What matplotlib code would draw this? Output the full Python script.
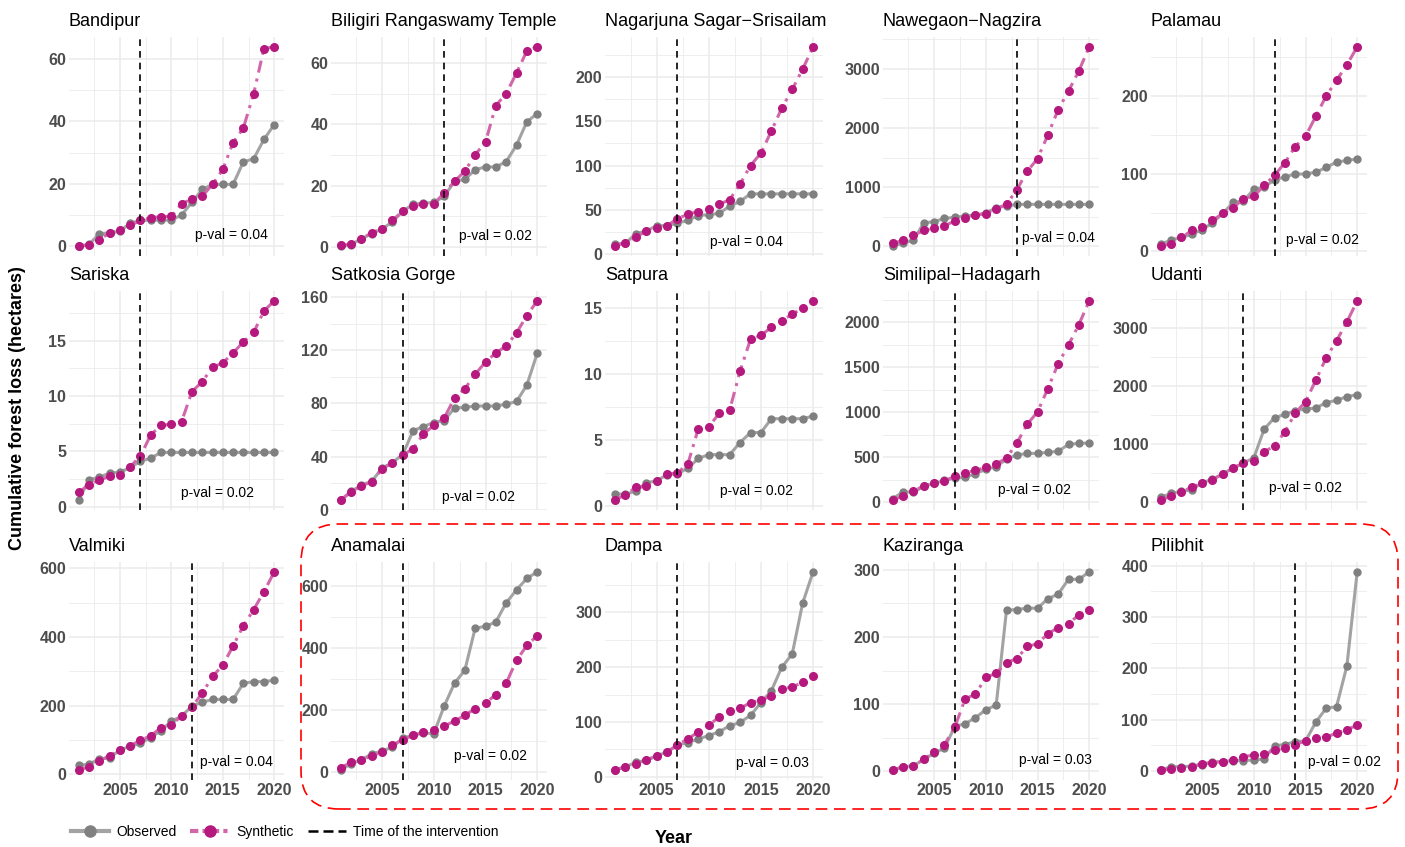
import matplotlib
matplotlib.use("Agg")
import matplotlib.pyplot as plt
from matplotlib.lines import Line2D
from matplotlib.patches import FancyBboxPatch
from matplotlib.ticker import MultipleLocator

plt.rcParams['font.family'] = ['Liberation Sans', 'DejaVu Sans']

years = [2001, 2002, 2003, 2004, 2005, 2006, 2007, 2008, 2009, 2010,
         2011, 2012, 2013, 2014, 2015, 2016, 2017, 2018, 2019, 2020]

names = ["Bandipur", "Biligiri Rangaswamy Temple", "Nagarjuna Sagar\u2212Srisailam",
         "Nawegaon\u2212Nagzira", "Palamau",
         "Sariska", "Satkosia Gorge", "Satpura", "Similipal\u2212Hadagarh", "Udanti",
         "Valmiki", "Anamalai", "Dampa", "Kaziranga", "Pilibhit"]
intervention = [2007, 2011, 2007, 2013, 2012,
                2007, 2007, 2007, 2007, 2009,
                2012, 2007, 2007, 2007, 2014]
pvals = [0.04, 0.02, 0.04, 0.04, 0.02,
         0.02, 0.02, 0.02, 0.02, 0.02,
         0.04, 0.02, 0.03, 0.03, 0.02]

obs_bandipur = [0, 0.5, 4.0, 4.2, 4.7, 7.4, 8.2, 8.3, 8.3, 8.3, 10.0, 14.0, 18.2, 19.8, 19.8, 19.8, 27.0, 28.0, 34.2, 39.0]
syn_bandipur = [0, 0.4, 2.1, 4.2, 5.2, 6.6, 8.2, 9.1, 9.4, 9.5, 13.6, 15.1, 16.0, 19.8, 24.6, 33.2, 37.9, 48.9, 63.4, 63.9]
obs_biligiri = [0.3, 0.8, 2.7, 4.3, 5.9, 8.2, 11.7, 13.9, 14.3, 14.5, 16.5, 21.4, 22.0, 25.2, 26.1, 26.1, 27.8, 33.2, 40.8, 43.5]
syn_biligiri = [0.5, 0.9, 2.6, 4.7, 5.9, 8.7, 11.7, 13.5, 13.9, 14.0, 17.6, 21.4, 24.7, 30.1, 34.2, 46.1, 50.0, 56.7, 63.9, 65.2]
obs_nagarjuna = [11, 12, 23, 26, 32, 32, 35, 38, 43.5, 44.5, 46, 54, 59.5, 68, 68, 68, 68, 68, 68, 68]
syn_nagarjuna = [9, 13, 19, 26, 29, 32, 40, 45, 48, 51, 56, 61.5, 79, 100, 114, 139, 165, 186, 209, 234]
obs_nawegaon = [0, 50, 96, 395, 412, 469, 486, 508, 525, 559, 650, 678, 706, 706, 706, 706, 706, 706, 706, 706]
syn_nawegaon = [45, 96, 181, 265, 305, 345, 424, 480, 525, 548, 633, 706, 955, 1265, 1480, 1881, 2311, 2627, 2966, 3373]
obs_palamau = [9, 15, 18, 22, 28, 37, 49, 63, 65, 80, 83, 92, 96, 99.6, 99.6, 102, 108, 115, 117, 119]
syn_palamau = [7, 10, 18, 27, 32, 40, 49, 56, 68, 71, 85, 98, 114, 135, 148, 174, 200, 220, 240, 263]
obs_sariska = [0.6, 2.45, 2.65, 3.05, 3.1, 3.55, 4.1, 4.4, 4.9, 4.9, 4.9, 4.9, 4.9, 4.9, 4.9, 4.9, 4.9, 4.9, 4.9, 4.9]
syn_sariska = [1.3, 2.0, 2.4, 2.75, 2.85, 3.6, 4.6, 6.5, 7.35, 7.45, 7.7, 10.4, 11.3, 12.6, 13.0, 13.9, 14.9, 15.75, 17.7, 18.6]
obs_satkosia = [7.3, 13.8, 18.6, 21.4, 31.4, 35.4, 41.7, 59.5, 62.6, 65.6, 67, 76.5, 77, 78, 78, 78, 79.4, 81.4, 93.7, 117.6]
syn_satkosia = [7.5, 13.3, 18, 21, 31, 35, 41, 46, 57, 63.5, 69, 84, 91, 102, 111, 118, 123, 133, 146, 157]
obs_satpura = [0.93, 0.88, 1.13, 1.76, 1.9, 2.37, 2.45, 2.85, 3.6, 3.88, 3.88, 3.88, 4.8, 5.55, 5.55, 6.6, 6.6, 6.6, 6.6, 6.8]
syn_satpura = [0.45, 0.85, 1.4, 1.5, 1.9, 2.4, 2.5, 3.2, 5.85, 6.0, 7.0, 7.25, 10.2, 12.6, 12.9, 13.5, 14.0, 14.5, 14.95, 15.5]
obs_similipal = [41, 119, 111, 178, 211, 244, 270, 278, 319, 367, 396, 481, 526, 544, 544, 556, 567, 644, 656, 659]
syn_similipal = [26, 70, 126, 185, 218, 240, 289, 330, 355, 389, 426, 493, 659, 867, 1004, 1263, 1541, 1748, 1974, 2237]
obs_udanti = [86, 155, 190, 213, 339, 397, 489, 592, 678, 764, 1259, 1454, 1511, 1575, 1603, 1621, 1713, 1753, 1816, 1851]
syn_udanti = [40, 103, 178, 264, 328, 391, 489, 586, 678, 713, 868, 971, 1213, 1529, 1730, 2098, 2483, 2776, 3098, 3460]
obs_valmiki = [26, 29, 45, 47, 71, 81, 90, 107, 127, 155, 169, 199, 210, 218, 218, 218, 265, 270, 270, 274]
syn_valmiki = [12, 22, 39, 54, 70, 83, 99, 112, 136, 143, 171, 197, 236, 285, 318, 374, 433, 480, 532, 590]
obs_anamalai = [6, 27, 39, 59, 67, 81, 109, 119, 126, 124, 213, 287, 329, 465, 471, 485, 547, 589, 626, 647]
syn_anamalai = [14, 31, 39, 52, 65, 88, 104, 119, 128, 137, 148, 165, 183, 205, 223, 250, 287, 361, 409, 441]
obs_dampa = [12, 18, 26, 30, 38, 45, 58, 62, 69, 75, 82, 93, 99, 112, 135, 157, 200, 224, 317, 374]
syn_dampa = [12, 18, 24, 30, 38, 45, 58, 69, 82, 94, 109, 120, 125, 135, 140, 147, 160, 164, 172, 183]
obs_kaziranga = [2, 7, 8.4, 18, 27, 35, 67, 71, 80, 92, 98.5, 240, 241, 243, 243, 257, 264, 286, 286, 297]
syn_kaziranga = [2, 7, 8.4, 18, 29, 40, 66, 108, 115, 140, 146, 162, 168, 186, 190, 205, 214, 220, 233, 240]
obs_pilibhit = [1.3, 8, 8, 9, 12, 17, 18, 20, 20, 21, 23, 49, 51, 57, 58, 95, 122, 125, 204, 388]
syn_pilibhit = [1.3, 4, 5, 8, 14, 16, 18, 21, 27, 31, 33, 40, 45, 51, 58, 63, 66, 73, 80, 89]

observed = [obs_bandipur, obs_biligiri, obs_nagarjuna, obs_nawegaon, obs_palamau,
            obs_sariska, obs_satkosia, obs_satpura, obs_similipal, obs_udanti,
            obs_valmiki, obs_anamalai, obs_dampa, obs_kaziranga, obs_pilibhit]
synthetic = [syn_bandipur, syn_biligiri, syn_nagarjuna, syn_nawegaon, syn_palamau,
             syn_sariska, syn_satkosia, syn_satpura, syn_similipal, syn_udanti,
             syn_valmiki, syn_anamalai, syn_dampa, syn_kaziranga, syn_pilibhit]

# y tick spacing per panel and where the p-value label sits (axes fraction)
ystep = [20, 20, 50, 1000, 100,
         5, 40, 5, 500, 1000,
         200, 200, 100, 100, 100]
ptxt_x = [0.754, 0.76, 0.651, 0.811, 0.796,
          0.69, 0.682, 0.697, 0.70, 0.715,
          0.78, 0.74, 0.77, 0.80, 0.898]
ptxt_y = [0.096, 0.09, 0.065, 0.08, 0.073,
          0.079, 0.06, 0.087, 0.09, 0.10,
          0.084, 0.11, 0.078, 0.092, 0.084]

W, H = 1405, 847
col_l = [69, 331, 605, 883, 1151]
col_r = [284, 547, 823, 1099, 1367]
row_t = [37, 291, 562]
row_b = [256, 510, 780]

obs_line = '#A3A3A3'
obs_pt = '#808080'
syn_line = '#D166AA'
syn_pt = '#B5197E'

fig = plt.figure(figsize=(W / 100, H / 100), dpi=100)

for i in range(15):
    r, c = divmod(i, 5)
    ax = fig.add_axes([col_l[c] / W, 1 - row_b[r] / H,
                       (col_r[c] - col_l[c]) / W, (row_b[r] - row_t[r]) / H])
    ax.plot(years, observed[i], color=obs_line, lw=2.2, zorder=3)
    ax.plot(years, observed[i], 'o', color=obs_pt, ms=5, zorder=4)
    ax.plot(years, synthetic[i], color=syn_line, lw=2.2, dashes=(4, 2, 1, 2), zorder=5)
    ax.plot(years, synthetic[i], 'o', color=syn_pt, ms=5.5, zorder=6)
    ax.axvline(intervention[i], color='black', lw=1.2, dashes=(4, 3), zorder=7)
    ax.set_xlim(2000.05, 2020.95)
    ax.xaxis.set_major_locator(MultipleLocator(5))
    ax.xaxis.set_minor_locator(MultipleLocator(2.5))
    ax.yaxis.set_major_locator(MultipleLocator(ystep[i]))
    ax.yaxis.set_minor_locator(MultipleLocator(ystep[i] / 2))
    ax.grid(which='major', color='#EBEBEB', lw=1.1)
    ax.grid(which='minor', color='#EBEBEB', lw=0.6)
    ax.set_axisbelow(True)
    for s in ax.spines.values():
        s.set_visible(False)
    ax.tick_params(which='both', length=0, labelsize=11.5, labelcolor='#4D4D4D', pad=2)
    for lab in ax.get_xticklabels() + ax.get_yticklabels():
        lab.set_fontweight('bold')
    if r < 2:
        ax.set_xticklabels([])
    ax.set_title(names[i], loc='left', fontsize=13, pad=8)
    ax.text(ptxt_x[i], ptxt_y[i], "p-val = %.2f" % pvals[i], transform=ax.transAxes,
            ha='center', va='center', fontsize=10)

fig.text(18 / W, 1 - 408 / H, "Cumulative forest loss (hectares)", rotation=90,
         ha='center', va='center', fontsize=13, fontweight='bold')
fig.text(674 / W, 1 - 838 / H, "Year", ha='center', va='center',
         fontsize=13, fontweight='bold')

box = FancyBboxPatch((3.01, 0.38), 10.97, 2.85, boxstyle="round,pad=0,rounding_size=0.38",
                     transform=fig.dpi_scale_trans, fill=False, edgecolor='red',
                     lw=1.2, linestyle=(0, (7, 4)))
fig.add_artist(box)

handles = [
    Line2D([], [], color=obs_line, lw=3, marker='o', markerfacecolor=obs_pt,
           markeredgecolor=obs_pt, ms=8),
    Line2D([], [], color=syn_line, lw=3, dashes=(2, 1, 1, 1), marker='o',
           markerfacecolor=syn_pt, markeredgecolor=syn_pt, ms=8),
    Line2D([], [], color='black', lw=1.8, dashes=(4, 2)),
]
fig.legend(handles, ["Observed", "Synthetic", "Time of the intervention"],
           loc='center left', bbox_to_anchor=(58 / W, 1 - 832 / H), ncol=3,
           frameon=False, fontsize=10, handlelength=2.8, handletextpad=0.5,
           columnspacing=1.0)

fig.savefig("out.png", dpi=100)
